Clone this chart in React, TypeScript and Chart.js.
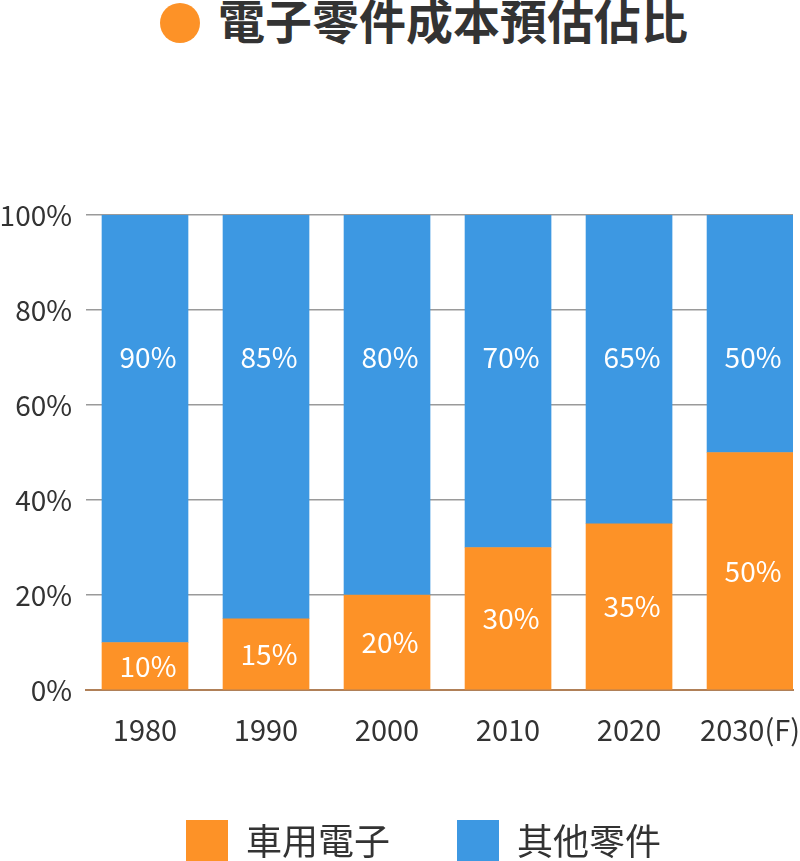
import React, { useEffect, useRef } from "react";
import { Chart, registerables } from "chart.js";

Chart.register(...registerables);

const title = "電子零件成本預估佔比";
const categories = ["1980", "1990", "2000", "2010", "2020", "2030(F)"];
const seriesNames = ["車用電子", "其他零件"];
const autoElectronics = [10, 15, 20, 30, 35, 50];
const otherParts = [90, 85, 80, 70, 65, 50];
const yTickStep = 20;
const blueLabelLevel = 70;

const ORANGE = "#FD9227";
const BLUE = "#3D98E2";
const TEXT = "#333333";
const FONT = "'Noto Sans CJK TC', 'Noto Sans', sans-serif";

export default function App() {
  const ref = useRef<HTMLCanvasElement | null>(null);

  useEffect(() => {
    if (!ref.current) return;
    Chart.defaults.font.family = FONT;
    Chart.defaults.color = TEXT;

    const labelPlugin = {
      id: "barLabels",
      afterDatasetsDraw(chart: any) {
        const ctx = chart.ctx;
        const ys = chart.scales.y;
        ctx.save();
        ctx.font = `28px ${FONT}`;
        ctx.fillStyle = "#ffffff";
        ctx.textAlign = "center";
        ctx.textBaseline = "middle";
        chart.getDatasetMeta(0).data.forEach((bar: any, i: number) => {
          const p = bar.getProps(["x", "y", "base"], true);
          ctx.fillText(autoElectronics[i] + "%", p.x + 3, (p.y + p.base) / 2);
        });
        chart.getDatasetMeta(1).data.forEach((bar: any, i: number) => {
          ctx.fillText(otherParts[i] + "%", bar.x + 3, ys.getPixelForValue(blueLabelLevel));
        });
        ctx.restore();
      },
    };

    const legendShift = {
      id: "legendShift",
      afterLayout(chart: any) {
        if (chart.legend) {
          chart.legend.left += 27;
          chart.legend.right += 27;
        }
      },
    };

    const chart = new Chart(ref.current, {
      type: "bar",
      data: {
        datasets: [
          {
            label: seriesNames[0],
            data: autoElectronics.map((v, i) => ({ x: i, y: v })),
            backgroundColor: ORANGE,
            borderWidth: 0,
            barThickness: 86,
          },
          {
            label: seriesNames[1],
            data: otherParts.map((v, i) => ({ x: i, y: v })),
            backgroundColor: BLUE,
            borderWidth: 0,
            barThickness: 86,
          },
        ],
      },
      options: {
        responsive: false,
        animation: false,
        layout: { padding: { top: 215, right: 7, left: 0, bottom: 0 } },
        scales: {
          x: {
            type: "linear",
            stacked: true,
            offset: false,
            min: -0.4876,
            max: 5.355,
            afterFit: (scale: any) => {
              scale.height = 63;
              scale.paddingLeft = 0;
              scale.paddingRight = 0;
            },
            grid: { display: false, drawTicks: false, offset: false },
            border: { display: true, color: "#B08058", width: 2 },
            ticks: {
              stepSize: 1,
              includeBounds: false,
              autoSkip: false,
              maxRotation: 0,
              padding: 23,
              color: TEXT,
              font: { size: 29 },
              callback: (v: any) => (Number.isInteger(v) && categories[v] !== undefined ? categories[v] : ""),
            },
          },
          y: {
            stacked: true,
            min: 0,
            max: 100,
            afterFit: (scale: any) => {
              scale.width = 86;
            },
            grid: { color: "#9A9A9A", lineWidth: 1.5, drawTicks: false },
            border: { display: false },
            ticks: {
              stepSize: yTickStep,
              padding: 14,
              color: TEXT,
              font: { size: 28 },
              callback: (v: any) => v + "%",
            },
          },
        },
        plugins: {
          title: { display: false },
          tooltip: { enabled: false },
          legend: {
            position: "bottom",
            labels: {
              boxWidth: 42,
              boxHeight: 42,
              padding: 67,
              color: TEXT,
              font: { size: 36 },
            },
          },
        },
      },
      plugins: [labelPlugin, legendShift],
    });
    return () => chart.destroy();
  }, []);

  return (
    <div
      style={{
        position: "fixed",
        left: 0,
        top: 0,
        width: 800,
        height: 861,
        overflow: "hidden",
        background: "#ffffff",
      }}
    >
      <div
        style={{
          position: "absolute",
          left: 160,
          top: 3,
          width: 40,
          height: 40,
          borderRadius: "50%",
          background: ORANGE,
        }}
      />
      <div
        style={{
          position: "absolute",
          left: 218,
          top: -5,
          fontSize: 47,
          lineHeight: "47px",
          fontWeight: 700,
          color: TEXT,
          fontFamily: FONT,
          whiteSpace: "nowrap",
        }}
      >
        {title}
      </div>
      <canvas ref={ref} width={800} height={872} style={{ position: "absolute", left: 0, top: 0 }} />
    </div>
  );
}
